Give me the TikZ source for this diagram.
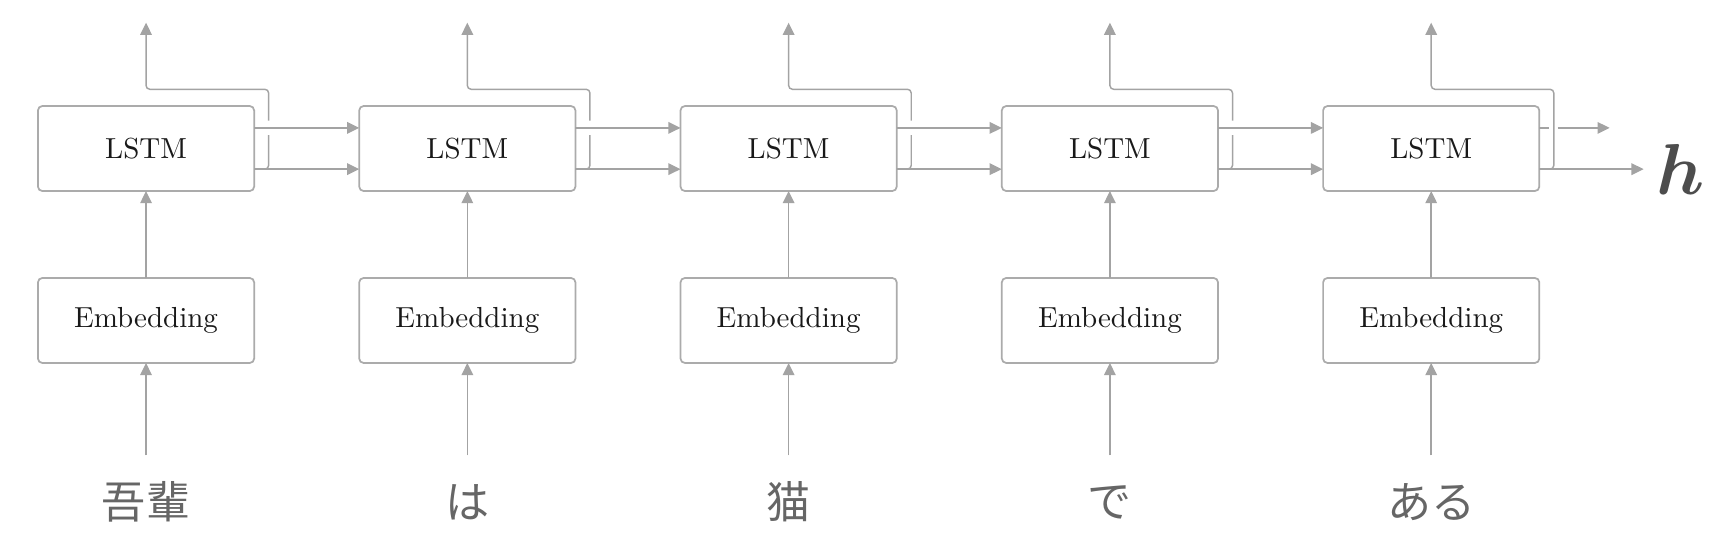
\documentclass[tikz,border=0pt]{standalone}
\usepackage{amsmath}
\usepackage{amssymb}
\usepackage{fontspec}
\newfontfamily\jpfont{Noto Sans CJK JP}
\usepackage{tikz}
\usetikzlibrary{arrows.meta,positioning}

\definecolor{linegray}{HTML}{A3A3A3}
\definecolor{boxgray}{HTML}{ABABAB}
\definecolor{wordgray}{HTML}{666666}
\definecolor{hgray}{HTML}{4D4D4D}

\begin{document}
\begin{tikzpicture}[scale=1.0,
  box/.style={draw=boxgray, line width=0.6pt, rounded corners=1.5pt,
    minimum width=2.62cm, minimum height=1.03cm, inner sep=0pt, outer sep=0pt,
    text=black!90},
  wire/.style={draw=linegray, line width=0.5pt, rounded corners=1.3pt},
  arr/.style={wire, -{Triangle[length=4.2pt,width=4pt]}},
  word/.style={font=\jpfont\fontsize{15.2pt}{18pt}\selectfont, text=wordgray, inner sep=0pt}]
\useasboundingbox (0,0) rectangle (20.822,-6.618);

% columns
\foreach \w [count=\i] in {吾輩,は,猫,で,ある} {
  \pgfmathsetmacro{\cx}{1.77+3.894*(\i-1)}
  \node[box] (l\i) at (\cx,-1.8) {LSTM};
  \node[box] (e\i) at (\cx,-3.884) {Embedding};
  \node[word] (w\i) at (\cx,-6.084) {\w};
  \coordinate (s\i) at (\cx,-5.518);
  \coordinate (t\i) at ([yshift=1.01cm]l\i.north);
  \draw[arr] (s\i) -- (e\i);
  \draw[arr] (e\i) -- (l\i);
}

% states to the next step
\foreach \i/\j in {1/2,2/3,3/4,4/5} {
  \draw[arr] ([yshift=0.25cm]l\i.east) -- ([yshift=0.25cm]l\j.west);
  \draw[arr] ([yshift=-0.25cm]l\i.east) -- ([yshift=-0.25cm]l\j.west);
  \draw[wire] ([yshift=-0.25cm]l\i.east) -| ([xshift=0.176cm,yshift=0.163cm]l\i.east);
  \draw[arr] ([xshift=0.176cm,yshift=0.337cm]l\i.east)
    -- ([xshift=0.176cm,yshift=0.718cm]l\i.east) -| (t\i);
}

% last step
\draw[arr] ([yshift=-0.25cm]l5.east) -| ([xshift=0.176cm,yshift=0.718cm]l5.east) -| (t5);
\draw[wire] ([yshift=0.25cm]l5.east) -- ([xshift=0.118cm,yshift=0.25cm]l5.east);
\coordinate (u5) at ([xshift=0.223cm,yshift=0.25cm]l5.east);
\coordinate (v5) at ([xshift=0.853cm,yshift=0.25cm]l5.east);
\draw[arr] (u5) -- (v5);

\node[anchor=west, inner sep=0.15cm, text=hgray, font=\Huge] (h)
  at ([xshift=1.265cm,yshift=-0.25cm]l5.east) {$\boldsymbol{h}$};
\draw[arr] ([yshift=-0.25cm]l5.east) -- (h);
\end{tikzpicture}
\end{document}
